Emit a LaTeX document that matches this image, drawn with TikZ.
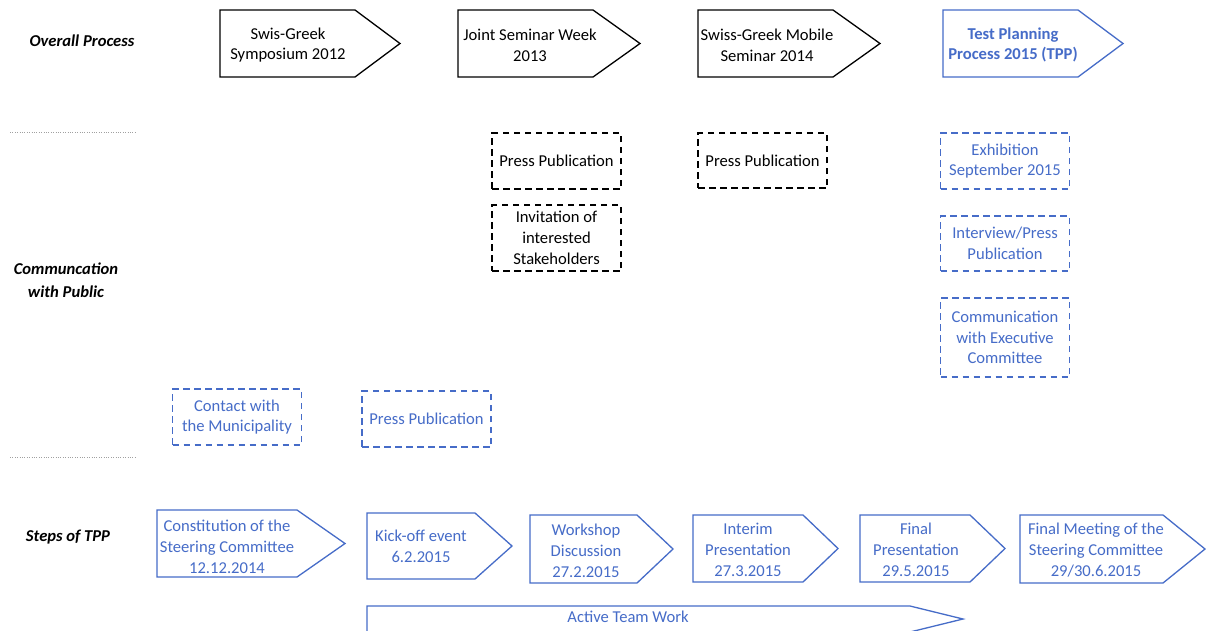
\documentclass[tikz,border=0pt]{standalone}
\usepackage{fontspec}
\setmainfont{Carlito}

\definecolor{tppblue}{RGB}{70,108,200}
\definecolor{sepgray}{RGB}{160,160,160}

% pentagon-shaped step: colour, left, corner, tip, top, bottom
\newcommand\chevron[6]{%
  \draw[pentline, draw=#1] (#2,#5) -- (#3,#5) -- (#4,{(#5+#6)/2}) -- (#3,#6) -- (#2,#6) -- cycle;}

\tikzset{
  pentline/.style={line width=1.3pt, line join=miter},
  boxtext/.style={align=center, inner sep=0pt, font=\fontsize{16.6pt}{20.8pt}\selectfont},
  lbl/.style={align=center, inner sep=0pt, font=\fontsize{16.6pt}{23pt}\selectfont\bfseries\itshape},
  dashbox/.style={draw, line width=1.5pt, dash pattern=on 6.5pt off 4.5pt, align=center,
    inner sep=0pt, minimum width=129pt, font=\fontsize{16.6pt}{20.8pt}\selectfont},
  sepline/.style={draw=sepgray, line width=0.9pt, dash pattern=on 1pt off 1.4pt},
}

\begin{document}
\begin{tikzpicture}[x=1pt, y=-1pt]
\useasboundingbox (0,0) rectangle (1206,630);
\fill[white] (0,0) rectangle (1206,630);
\clip (0,0) rectangle (1206,630);

% row labels
\node[lbl] (lblOverall) at (82,41) {Overall Process};
\node[lbl] (lblComm) at (66,280) {Communcation\\with Public};
\node[lbl] (lblSteps) at (68,537) {Steps of TPP};

% row separators
\coordinate (sepAa) at (10,132); \coordinate (sepAb) at (137,132);
\coordinate (sepBa) at (10,457); \coordinate (sepBb) at (137,457);
\draw[sepline] (sepAa) -- (sepAb);
\draw[sepline] (sepBa) -- (sepBb);

% overall process
\chevron{black}{220}{355}{400}{10}{77}
\node[boxtext] (symp) at (288,45) {Swis-Greek\\Symposium 2012};
\chevron{black}{458}{593}{640}{10}{77}
\node[boxtext] (joint) at (530,45) {Joint Seminar Week\\2013};
\chevron{black}{698}{833}{880}{10}{77}
\node[boxtext] (mobile) at (767,45) {Swiss-Greek Mobile\\Seminar 2014};
\chevron{tppblue}{943}{1078}{1123}{10}{77}
\node[boxtext, text=tppblue, font=\fontsize{16.6pt}{20.8pt}\selectfont\bfseries] (tpp) at (1013,45) {Test Planning\\Process 2015 (TPP)};

% communication with public
\node[dashbox, minimum height=56pt] (pressA) at (556.5,161) {Press Publication};
\node[dashbox, minimum height=66pt] (invite) at (556.5,238) {Invitation of\\interested\\Stakeholders};
\node[dashbox, minimum height=55pt] (pressB) at (762.5,160.5) {Press Publication};
\node[dashbox, draw=tppblue, text=tppblue, minimum height=56pt] (exhib) at (1005,161) {Exhibition\\September 2015};
\node[dashbox, draw=tppblue, text=tppblue, minimum height=55pt] (interview) at (1005,243.5) {Interview/Press\\Publication};
\node[dashbox, draw=tppblue, text=tppblue, minimum height=79pt] (execcom) at (1005,337.5) {Communication\\with Executive\\Committee};
\node[dashbox, draw=tppblue, text=tppblue, minimum height=56pt] (municip) at (237,417) {Contact with\\the Municipality};
\node[dashbox, draw=tppblue, text=tppblue, minimum height=56pt] (pressC) at (426.5,419) {Press Publication};

% steps of TPP
\chevron{tppblue}{157}{297}{345}{510}{577}
\node[boxtext, text=tppblue] (constit) at (227,547) {Constitution of the\\Steering Committee\\12.12.2014};
\chevron{tppblue}{367}{475}{512}{513}{579}
\node[boxtext, text=tppblue] (kickoff) at (421,546) {Kick-off event\\6.2.2015};
\chevron{tppblue}{530}{637}{673}{515}{583}
\node[boxtext, text=tppblue] (workshop) at (586,551) {Workshop\\Discussion\\27.2.2015};
\chevron{tppblue}{693}{803}{838}{515}{582}
\node[boxtext, text=tppblue] (interim) at (748,550) {Interim\\Presentation\\27.3.2015};
\chevron{tppblue}{860}{970}{1005}{515}{582}
\node[boxtext, text=tppblue] (final) at (916,550) {Final\\Presentation\\29.5.2015};
\chevron{tppblue}{1020}{1163}{1205}{515}{583}
\node[boxtext, text=tppblue] (finalmeet) at (1096,550) {Final Meeting of the\\Steering Committee\\29/30.6.2015};

% active team work band
\chevron{tppblue}{367}{910}{963}{606}{632}
\node[boxtext, text=tppblue] (teamwork) at (628,617) {Active Team Work};
\end{tikzpicture}
\end{document}
